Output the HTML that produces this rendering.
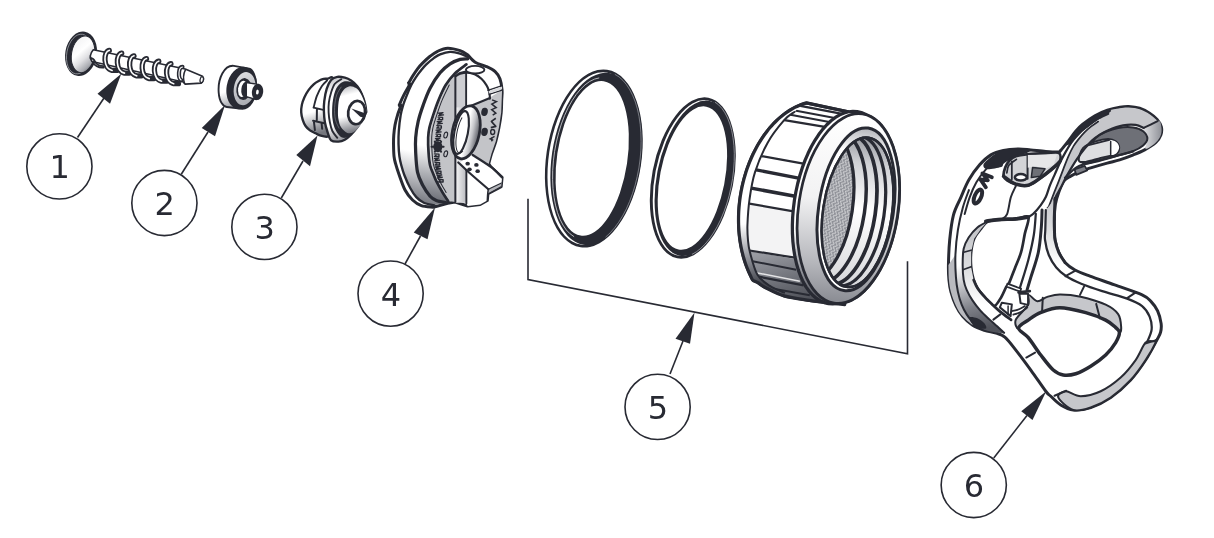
<!DOCTYPE html>
<html lang="en">
<head>
<meta charset="utf-8">
<title>Exploded view</title>
<style>
html,body{margin:0;padding:0;background:#fff;}
body{width:1214px;height:538px;overflow:hidden;font-family:"DejaVu Sans","Liberation Sans",sans-serif;}
svg{display:block;will-change:transform;filter:blur(0.4px);}
.ln{stroke:#282a33;stroke-width:1.6;fill:none;stroke-linecap:butt;}
.co{stroke:#282a33;stroke-width:1.6;fill:#fff;}
.ah{fill:#282a33;stroke:none;}
.num{font-family:"DejaVu Sans","Liberation Sans",sans-serif;font-size:32px;fill:#282a33;text-anchor:middle;}
.k{stroke:#282a33;fill:none;stroke-linecap:round;stroke-linejoin:round;}
</style>
</head>
<body>
<svg width="1214" height="538" viewBox="0 0 1214 538">
<defs>
<linearGradient id="gv" x1="0" y1="0" x2="0" y2="1"><stop offset="0" stop-color="#fff"/><stop offset="1" stop-color="#9a9ca3"/></linearGradient>
</defs>
<rect width="1214" height="538" fill="#fff"/>

<!-- CALLOUTS -->
<g id="callouts">
<line class="ln" x1="77.5" y1="137.5" x2="104" y2="98"/>
<polygon class="ah" points="121.25,73.75 97.5,93.75 110,103.75"/>
<circle class="co" cx="59.4" cy="166.4" r="32.6"/>
<text class="num" x="59.7" y="178.4">1</text>

<line class="ln" x1="181.25" y1="174.25" x2="208" y2="132"/>
<polygon class="ah" points="225,105 201.75,128 215,136.25"/>
<circle class="co" cx="164.4" cy="203" r="32.6"/>
<text class="num" x="164.7" y="215.0">2</text>

<line class="ln" x1="281.3" y1="198" x2="303" y2="161"/>
<polygon class="ah" points="317.5,135.5 296.3,155 310,166.3"/>
<circle class="co" cx="264.4" cy="226.9" r="32.6"/>
<text class="num" x="264.7" y="238.9">3</text>

<line class="ln" x1="405" y1="264" x2="420.5" y2="236"/>
<polygon class="ah" points="435,207.5 413.75,232.5 427.5,239.25"/>
<circle class="co" cx="390.6" cy="293.6" r="32.6"/>
<text class="num" x="390.9" y="305.6">4</text>

<polyline class="ln" points="528,198.75 528,279.5 907.5,353.75 907.5,261.25"/>
<line class="ln" x1="670" y1="374" x2="683" y2="341"/>
<polygon class="ah" points="694.5,312.5 675.5,338.75 690,343.75"/>
<circle class="co" cx="657.6" cy="406.9" r="32.6"/>
<text class="num" x="657.9" y="418.9">5</text>

<line class="ln" x1="993.75" y1="458" x2="1027" y2="415.5"/>
<polygon class="ah" points="1046.25,391.25 1021.25,411.25 1032.5,420"/>
<circle class="co" cx="973.75" cy="485" r="32.6"/>
<text class="num" x="974.0" y="497.0">6</text>
</g>

<g id="part1" transform="translate(60,25) scale(0.12521)">
<defs><linearGradient id="p1g" x1="0.2" y1="0.1" x2="0.85" y2="0.95"><stop offset="0" stop-color="#f4f4f5"/><stop offset="0.35" stop-color="#fff"/><stop offset="0.6" stop-color="#e0e0e3"/><stop offset="0.85" stop-color="#a9abb1"/><stop offset="1" stop-color="#6d6f77"/></linearGradient></defs>
<ellipse cx="168" cy="230" rx="126" ry="179" transform="rotate(10 168 230)" fill="#282a33"/>
<ellipse cx="152" cy="232" rx="98" ry="160" transform="rotate(10 152 232)" fill="none" stroke="#b9bbc0" stroke-width="5"/>
<ellipse cx="184" cy="234" rx="92" ry="148" transform="rotate(10 184 234)" fill="url(#p1g)" stroke="#282a33" stroke-width="8"/>
<path d="M266,198 L1000,352 L1138,410 Q1158,438 1128,464 L1000,472 L985,455 L255,292 Q225,245 266,198 Z" fill="#fff" stroke="#282a33" stroke-width="13" stroke-linejoin="round"/>
<ellipse cx="1132" cy="437" rx="13" ry="24" transform="rotate(12 1132 437)" fill="#fff" stroke="#282a33" stroke-width="10"/>
<path d="M1003,355 Q975,410 995,470" fill="none" stroke="#282a33" stroke-width="12"/>
<path d="M243,262 Q268,266 280,292 Q296,328 350,328" fill="none" stroke="#282a33" stroke-width="14" stroke-linecap="round"/>
<path d="M262,300 Q290,345 350,340" fill="none" stroke="#282a33" stroke-width="14" stroke-linecap="round"/>
<path d="M394,203 C344,211 344,347 416,363 L454,363" fill="none" stroke="#282a33" stroke-width="42" stroke-linecap="round" stroke-linejoin="round"/>
<path d="M394,203 C344,211 344,347 416,363" fill="none" stroke="#fff" stroke-width="13" stroke-linecap="round"/>
<path d="M493,224 C443,232 443,368 515,384 L553,384" fill="none" stroke="#282a33" stroke-width="42" stroke-linecap="round" stroke-linejoin="round"/>
<path d="M493,224 C443,232 443,368 515,384" fill="none" stroke="#fff" stroke-width="13" stroke-linecap="round"/>
<path d="M591,246 C541,254 541,390 613,406 L651,406" fill="none" stroke="#282a33" stroke-width="42" stroke-linecap="round" stroke-linejoin="round"/>
<path d="M591,246 C541,254 541,390 613,406" fill="none" stroke="#fff" stroke-width="13" stroke-linecap="round"/>
<path d="M691,268 C641,276 641,412 713,428 L751,428" fill="none" stroke="#282a33" stroke-width="42" stroke-linecap="round" stroke-linejoin="round"/>
<path d="M691,268 C641,276 641,412 713,428" fill="none" stroke="#fff" stroke-width="13" stroke-linecap="round"/>
<path d="M789,289 C739,297 739,433 811,449 L849,449" fill="none" stroke="#282a33" stroke-width="42" stroke-linecap="round" stroke-linejoin="round"/>
<path d="M789,289 C739,297 739,433 811,449" fill="none" stroke="#fff" stroke-width="13" stroke-linecap="round"/>
<path d="M886,309 C836,317 836,453 908,469 L946,469" fill="none" stroke="#282a33" stroke-width="42" stroke-linecap="round" stroke-linejoin="round"/>
<path d="M886,309 C836,317 836,453 908,469" fill="none" stroke="#fff" stroke-width="13" stroke-linecap="round"/>
<path d="M978,335 C943,337 943,422 967,439" fill="none" stroke="#282a33" stroke-width="34" stroke-linecap="round"/>
<path d="M978,335 C943,337 943,422 967,439" fill="none" stroke="#fff" stroke-width="9" stroke-linecap="round"/>
</g>
<g id="part2" transform="translate(200,50) scale(0.12454)">
<defs><linearGradient id="p2g" x1="0.3" y1="0" x2="0.7" y2="1"><stop offset="0" stop-color="#dcdde0"/><stop offset="1" stop-color="#a9abb1"/></linearGradient>
<linearGradient id="p2b" x1="0" y1="0" x2="0.3" y2="1"><stop offset="0.6" stop-color="#fff"/><stop offset="1" stop-color="#9a9ca3"/></linearGradient></defs>
<path d="M272,127 C195,118 142,230 150,340 C155,420 190,455 215,458 L340,472 C400,470 450,390 452,300 C455,210 420,155 395,150 Z" fill="url(#p2b)" stroke="#282a33" stroke-width="15" stroke-linejoin="round"/>
<ellipse cx="334" cy="306" rx="121" ry="172" transform="rotate(10 334 308)" fill="#282a33"/>
<ellipse cx="358" cy="310" rx="86" ry="134" transform="rotate(10 355 310)" fill="url(#p2g)"/>
<ellipse cx="352" cy="313" rx="60" ry="88" transform="rotate(8 352 313)" fill="#282a33"/>
<ellipse cx="342" cy="312" rx="36" ry="66" transform="rotate(8 342 312)" fill="#fff"/>
<ellipse cx="368" cy="316" rx="36" ry="64" transform="rotate(8 368 316)" fill="#282a33"/>
<path d="M372,262 L458,274 L452,398 L372,374 Z" fill="#fff" stroke="#282a33" stroke-width="11" stroke-linejoin="round"/>
<ellipse cx="462" cy="336" rx="45" ry="66" transform="rotate(8 461 336)" fill="#282a33"/>
<ellipse cx="461" cy="338" rx="11" ry="20" transform="rotate(8 461 338)" fill="#fff"/>
</g>

<g id="part3" transform="translate(295,70) scale(0.12453)">
<defs>
<linearGradient id="p3a" x1="0" y1="0" x2="0.15" y2="1"><stop offset="0.62" stop-color="#fff"/><stop offset="1" stop-color="#74767d"/></linearGradient>
<linearGradient id="p3b" x1="0.3" y1="0" x2="0.5" y2="1"><stop offset="0" stop-color="#c4c5c9"/><stop offset="0.22" stop-color="#fff"/><stop offset="0.7" stop-color="#fff"/><stop offset="1" stop-color="#85878e"/></linearGradient>
<linearGradient id="p3c" x1="0.4" y1="0" x2="0.55" y2="1"><stop offset="0" stop-color="#c4c5c9"/><stop offset="0.18" stop-color="#fff"/><stop offset="0.6" stop-color="#fff"/><stop offset="1" stop-color="#6d6f77"/></linearGradient>
</defs>
<path d="M300.0,60.0 C292.0,51.7 273.7,68.0 262.0,70.0 C250.3,72.0 242.0,69.0 230.0,72.0 C218.0,75.0 203.3,80.8 190.0,88.0 C176.7,95.2 163.3,103.0 150.0,115.0 C136.7,127.0 122.5,142.5 110.0,160.0 C97.5,177.5 84.2,200.0 75.0,220.0 C65.8,240.0 59.2,260.0 55.0,280.0 C50.8,300.0 48.8,320.0 50.0,340.0 C51.2,360.0 56.2,381.7 62.0,400.0 C67.8,418.3 75.3,435.8 85.0,450.0 C94.7,464.2 106.7,475.3 120.0,485.0 C133.3,494.7 151.7,501.3 165.0,508.0 C178.3,514.7 184.2,520.5 200.0,525.0 C215.8,529.5 243.3,539.2 260.0,535.0 C276.7,530.8 291.7,539.2 300.0,500.0 C308.3,460.8 308.3,363.3 310.0,300.0 C311.7,236.7 311.7,160.0 310.0,120.0 C308.3,80.0 308.0,68.3 300.0,60.0Z" fill="url(#p3a)" stroke="#282a33" stroke-width="19" stroke-linejoin="round"/>
<path d="M258.0,84.0 C250.8,91.7 228.8,109.0 215.0,130.0 C201.2,151.0 185.8,181.7 175.0,210.0 C164.2,238.3 154.2,285.0 150.0,300.0" fill="none" stroke="#282a33" stroke-width="15" stroke-linecap="round"/>
<path d="M150,302 L236,322 M176,312 L175,402 M145,407 L236,427 M152,415 L160,482 M214,430 L218,472" fill="none" stroke="#282a33" stroke-width="16" stroke-linecap="round"/>
<path d="M340.0,55.0 C358.3,52.0 381.7,57.0 400.0,62.0 C418.3,67.0 433.3,73.7 450.0,85.0 C466.7,96.3 485.8,112.5 500.0,130.0 C514.2,147.5 525.0,168.3 535.0,190.0 C545.0,211.7 553.8,236.7 560.0,260.0 C566.2,283.3 570.7,315.8 572.0,330.0 C573.3,344.2 573.3,333.3 568.0,345.0 C562.7,356.7 551.3,380.8 540.0,400.0 C528.7,419.2 515.0,440.0 500.0,460.0 C485.0,480.0 466.7,503.3 450.0,520.0 C433.3,536.7 416.7,550.8 400.0,560.0 C383.3,569.2 368.3,574.2 350.0,575.0 C331.7,575.8 304.7,577.5 290.0,565.0 C275.3,552.5 270.3,524.2 262.0,500.0 C253.7,475.8 245.0,448.3 240.0,420.0 C235.0,391.7 232.8,358.3 232.0,330.0 C231.2,301.7 231.2,280.0 235.0,250.0 C238.8,220.0 245.8,178.3 255.0,150.0 C264.2,121.7 275.8,95.8 290.0,80.0 C304.2,64.2 321.7,58.0 340.0,55.0Z" fill="url(#p3b)" stroke="#282a33" stroke-width="19" stroke-linejoin="round"/>
<path d="M372.0,74.0 C363.3,80.0 333.7,92.3 320.0,110.0 C306.3,127.7 298.0,155.0 290.0,180.0 C282.0,205.0 275.3,233.3 272.0,260.0 C268.7,286.7 268.7,313.3 270.0,340.0 C271.3,366.7 275.0,395.0 280.0,420.0 C285.0,445.0 290.0,469.2 300.0,490.0 C310.0,510.8 333.3,535.8 340.0,545.0" fill="none" stroke="#282a33" stroke-width="15" stroke-linecap="round"/>
<path d="M298.0,330.0 C298.5,303.3 299.7,270.0 305.0,240.0 C310.3,210.0 318.3,173.3 330.0,150.0 C341.7,126.7 360.0,110.0 375.0,100.0 C390.0,90.0 402.5,88.7 420.0,90.0 C437.5,91.3 462.5,97.2 480.0,108.0 C497.5,118.8 512.5,134.7 525.0,155.0 C537.5,175.3 547.8,200.8 555.0,230.0 C562.2,259.2 569.7,301.7 568.0,330.0 C566.3,358.3 556.3,377.5 545.0,400.0 C533.7,422.5 517.5,444.2 500.0,465.0 C482.5,485.8 456.7,511.7 440.0,525.0 C423.3,538.3 413.3,544.2 400.0,545.0 C386.7,545.8 373.3,542.5 360.0,530.0 C346.7,517.5 329.7,491.7 320.0,470.0 C310.3,448.3 305.7,423.3 302.0,400.0 C298.3,376.7 297.5,356.7 298.0,330.0Z" fill="#282a33"/>
<path d="M372.0,135.0 C365.8,145.8 344.0,172.5 335.0,200.0 C326.0,227.5 319.7,266.7 318.0,300.0 C316.3,333.3 318.8,371.7 325.0,400.0 C331.2,428.3 350.0,458.3 355.0,470.0" fill="none" stroke="#85878e" stroke-width="5"/>
<path d="M345.0,330.0 C345.8,301.7 347.5,258.3 355.0,230.0 C362.5,201.7 375.8,176.7 390.0,160.0 C404.2,143.3 423.3,132.5 440.0,130.0 C456.7,127.5 475.3,135.0 490.0,145.0 C504.7,155.0 516.7,170.8 528.0,190.0 C539.3,209.2 550.7,236.7 558.0,260.0 C565.3,283.3 574.2,306.7 572.0,330.0 C569.8,353.3 553.7,380.0 545.0,400.0 C536.3,420.0 532.5,433.3 520.0,450.0 C507.5,466.7 486.7,490.8 470.0,500.0 C453.3,509.2 436.7,511.7 420.0,505.0 C403.3,498.3 381.7,477.5 370.0,460.0 C358.3,442.5 354.2,421.7 350.0,400.0 C345.8,378.3 344.2,358.3 345.0,330.0Z" fill="url(#p3c)"/>
<ellipse cx="495" cy="342" rx="68" ry="94" transform="rotate(8 495 342)" fill="#fff" stroke="#282a33" stroke-width="22"/>
<polygon points="453,310 568,350 558,384 524,376" fill="#282a33"/>
</g>
<g id="part4" transform="translate(380,40) scale(0.1252)">
<defs>
<linearGradient id="p4a" gradientUnits="userSpaceOnUse" x1="300" y1="900" x2="200" y2="1300"><stop offset="0" stop-color="#fff"/><stop offset="0.5" stop-color="#b5b6bb"/><stop offset="1" stop-color="#6a6c74"/></linearGradient>
<linearGradient id="p4b" gradientUnits="userSpaceOnUse" x1="400" y1="850" x2="330" y2="1280"><stop offset="0" stop-color="#fff"/><stop offset="0.5" stop-color="#aeb0b5"/><stop offset="1" stop-color="#6a6c74"/></linearGradient>
<linearGradient id="p4h" gradientUnits="userSpaceOnUse" x1="690" y1="0" x2="795" y2="0"><stop offset="0" stop-color="#fff"/><stop offset="0.45" stop-color="#c4c5c9"/><stop offset="1" stop-color="#55575f"/></linearGradient>
<linearGradient id="p4s" gradientUnits="userSpaceOnUse" x1="605" y1="0" x2="690" y2="0"><stop offset="0" stop-color="#f4f4f5"/><stop offset="1" stop-color="#b9babf"/></linearGradient>
</defs>
<path d="M425.0,1336.0 C409.2,1333.8 357.5,1332.7 330.0,1323.0 C302.5,1313.3 281.7,1298.8 260.0,1278.0 C238.3,1257.2 218.3,1233.0 200.0,1198.0 C181.7,1163.0 162.5,1102.7 150.0,1068.0 C137.5,1033.3 131.3,1013.2 125.0,990.0 C118.7,966.8 114.8,955.7 112.0,929.0 C109.2,902.3 108.3,858.2 108.0,830.0 C107.7,801.8 108.0,785.2 110.0,760.0 C112.0,734.8 115.0,705.7 120.0,679.0 C125.0,652.3 132.3,625.8 140.0,600.0 C147.7,574.2 163.5,537.3 166.0,524.0 C168.5,510.7 151.0,534.0 155.0,520.0 C159.0,506.0 176.5,467.3 190.0,440.0 C203.5,412.7 229.3,371.8 236.0,356.0 C242.7,340.2 226.0,356.0 230.0,345.0 C234.0,334.0 248.3,309.2 260.0,290.0 C271.7,270.8 286.7,247.5 300.0,230.0 C313.3,212.5 323.3,201.7 340.0,185.0 C356.7,168.3 380.0,145.8 400.0,130.0 C420.0,114.2 436.7,100.8 460.0,90.0 C483.3,79.2 510.0,65.8 540.0,65.0 C570.0,64.2 613.3,76.2 640.0,85.0 C666.7,93.8 690.0,112.5 700.0,118.0 C710.0,128.0 735.0,162.3 760.0,178.0 C785.0,193.7 823.3,199.7 850.0,212.0 C876.7,224.3 902.0,235.7 920.0,252.0 C938.0,268.3 948.8,285.3 958.0,310.0 C967.2,334.7 972.7,371.8 975.0,400.0 C977.3,428.2 973.2,449.2 972.0,479.0 C970.8,508.8 971.7,542.3 968.0,579.0 C964.3,615.7 957.2,660.7 950.0,699.0 C942.8,737.3 935.0,774.0 925.0,809.0 C915.0,844.0 899.5,878.8 890.0,909.0 C880.5,939.2 871.7,976.5 868.0,990.0 L885,1014 L975,1098 L970,1150 L968,1172 L862,1228 L857,1282 L800,1314 L700,1326 L600,1294 L540,1304 L425,1336Z" fill="#fff" stroke="#282a33" stroke-width="24" stroke-linejoin="round"/>
<path d="M700.0,135.0 C690.0,130.5 663.3,114.7 640.0,108.0 C616.7,101.3 586.7,93.8 560.0,95.0 C533.3,96.2 501.7,106.7 480.0,115.0 C458.3,123.3 448.3,131.7 430.0,145.0 C411.7,158.3 386.7,179.2 370.0,195.0 C353.3,210.8 344.2,222.5 330.0,240.0 C315.8,257.5 298.3,280.0 285.0,300.0 C271.7,320.0 261.7,336.7 250.0,360.0 C238.3,383.3 225.8,413.3 215.0,440.0 C204.2,466.7 193.3,493.3 185.0,520.0 C176.7,546.7 170.8,565.2 165.0,600.0 C159.2,634.8 152.8,690.7 150.0,729.0 C147.2,767.3 147.2,796.7 148.0,830.0 C148.8,863.3 151.3,900.7 155.0,929.0 C158.7,957.3 163.3,974.8 170.0,1000.0 C176.7,1025.2 183.3,1050.0 195.0,1080.0 C206.7,1110.0 224.2,1150.8 240.0,1180.0 C255.8,1209.2 271.7,1235.0 290.0,1255.0 C308.3,1275.0 326.7,1289.2 350.0,1300.0 C373.3,1310.8 416.7,1316.7 430.0,1320.0 L530,1300 L450,1282 L400,1248 L340,1158 L300,1058 L285,900 L285,779 L305,650 L345,520 L400,385 L480,262 L560,190 L640,155 L700,150 Z" fill="url(#p4a)"/>
<path d="M700.0,150.0 C690.0,150.8 663.3,148.3 640.0,155.0 C616.7,161.7 586.7,172.2 560.0,190.0 C533.3,207.8 506.7,229.5 480.0,262.0 C453.3,294.5 422.5,342.0 400.0,385.0 C377.5,428.0 360.8,475.8 345.0,520.0 C329.2,564.2 315.0,606.8 305.0,650.0 C295.0,693.2 288.3,737.3 285.0,779.0 C281.7,820.7 282.5,853.5 285.0,900.0 C287.5,946.5 290.8,1015.0 300.0,1058.0 C309.2,1101.0 323.3,1126.3 340.0,1158.0 C356.7,1189.7 381.7,1227.3 400.0,1248.0 C418.3,1268.7 428.3,1273.3 450.0,1282.0 C471.7,1290.7 516.7,1297.0 530.0,1300.0 L545,1288 L500,1218 L455,1138 L425,1068 L400,1000 L388,900 L385,779 L395,700 L425,600 L468,480 L525,360 L600,265 L690,195 Z" fill="url(#p4b)"/>
<path d="M602.0,270.0 C604.0,269.2 624.5,250.0 614.0,265.0 C603.5,280.0 561.0,324.2 539.0,360.0 C517.0,395.8 498.7,440.0 482.0,480.0 C465.3,520.0 451.2,563.3 439.0,600.0 C426.8,636.7 415.7,670.2 409.0,700.0 C402.3,729.8 400.2,745.7 399.0,779.0 C397.8,812.3 399.5,863.2 402.0,900.0 C404.5,936.8 407.8,972.0 414.0,1000.0 C420.2,1028.0 429.8,1045.0 439.0,1068.0 C448.2,1091.0 456.5,1113.0 469.0,1138.0 C481.5,1163.0 499.0,1193.0 514.0,1218.0 C529.0,1243.0 551.5,1276.3 559.0,1288.0 L602,1294 Z" fill="#c3c4c8"/>
<path d="M690.0,540.0 L875.0,462.0 L975.0,400.0 L972.0,479.0 L968.0,579.0 L950.0,699.0 L925.0,809.0 L890.0,909.0 L868.0,990.0 L740.0,919.0Z" fill="#c3c4c8"/>
<rect x="602" y="268" width="86" height="1032" fill="url(#p4s)"/>
<rect x="602" y="268" width="86" height="270" fill="#cdced2"/>
<path d="M690,1030 L700,1048 L865,1192 L860,1230 L857,1282 L800,1314 L700,1326 L690,1303 Z" fill="#fff"/>
<path d="M640,975 L740,919 L885,1014 L975,1098 L970,1150 L865,1192 L700,1048 Z" fill="#fff"/>
<path d="M865,1192 L970,1143 L968,1172 L862,1228 Z" fill="#b4b5ba"/>
<path d="M700.0,135.0 C690.0,130.5 663.3,114.7 640.0,108.0 C616.7,101.3 586.7,93.8 560.0,95.0 C533.3,96.2 501.7,106.7 480.0,115.0 C458.3,123.3 448.3,131.7 430.0,145.0 C411.7,158.3 386.7,179.2 370.0,195.0 C353.3,210.8 344.2,222.5 330.0,240.0 C315.8,257.5 298.3,280.0 285.0,300.0 C271.7,320.0 261.7,336.7 250.0,360.0 C238.3,383.3 225.8,413.3 215.0,440.0 C204.2,466.7 193.3,493.3 185.0,520.0 C176.7,546.7 170.8,565.2 165.0,600.0 C159.2,634.8 152.8,690.7 150.0,729.0 C147.2,767.3 147.2,796.7 148.0,830.0 C148.8,863.3 151.3,900.7 155.0,929.0 C158.7,957.3 163.3,974.8 170.0,1000.0 C176.7,1025.2 183.3,1050.0 195.0,1080.0 C206.7,1110.0 224.2,1150.8 240.0,1180.0 C255.8,1209.2 271.7,1235.0 290.0,1255.0 C308.3,1275.0 326.7,1289.2 350.0,1300.0 C373.3,1310.8 416.7,1316.7 430.0,1320.0" fill="none" stroke="#282a33" stroke-width="19" stroke-linecap="round" stroke-linejoin="round" />
<path d="M700.0,150.0 C690.0,150.8 663.3,148.3 640.0,155.0 C616.7,161.7 586.7,172.2 560.0,190.0 C533.3,207.8 506.7,229.5 480.0,262.0 C453.3,294.5 422.5,342.0 400.0,385.0 C377.5,428.0 360.8,475.8 345.0,520.0 C329.2,564.2 315.0,606.8 305.0,650.0 C295.0,693.2 288.3,737.3 285.0,779.0 C281.7,820.7 282.5,853.5 285.0,900.0 C287.5,946.5 290.8,1015.0 300.0,1058.0 C309.2,1101.0 323.3,1126.3 340.0,1158.0 C356.7,1189.7 381.7,1227.3 400.0,1248.0 C418.3,1268.7 428.3,1273.3 450.0,1282.0 C471.7,1290.7 516.7,1297.0 530.0,1300.0" fill="none" stroke="#282a33" stroke-width="26" stroke-linecap="round" stroke-linejoin="round" />
<path d="M690.0,195.0 C675.0,206.7 627.5,237.5 600.0,265.0 C572.5,292.5 547.0,324.2 525.0,360.0 C503.0,395.8 484.7,440.0 468.0,480.0 C451.3,520.0 437.2,563.3 425.0,600.0 C412.8,636.7 401.7,670.2 395.0,700.0 C388.3,729.8 386.2,745.7 385.0,779.0 C383.8,812.3 385.5,863.2 388.0,900.0 C390.5,936.8 393.8,972.0 400.0,1000.0 C406.2,1028.0 415.8,1045.0 425.0,1068.0 C434.2,1091.0 442.5,1113.0 455.0,1138.0 C467.5,1163.0 485.0,1193.0 500.0,1218.0 C515.0,1243.0 537.5,1276.3 545.0,1288.0" fill="none" stroke="#282a33" stroke-width="22" stroke-linecap="round" stroke-linejoin="round" />
<path d="M553.0,360.0 C543.5,380.0 512.7,440.0 496.0,480.0 C479.3,520.0 465.2,563.3 453.0,600.0 C440.8,636.7 429.7,670.2 423.0,700.0 C416.3,729.8 414.2,745.7 413.0,779.0 C411.8,812.3 413.5,863.2 416.0,900.0 C418.5,936.8 421.8,972.0 428.0,1000.0 C434.2,1028.0 443.8,1045.0 453.0,1068.0 C462.2,1091.0 470.5,1113.0 483.0,1138.0 C495.5,1163.0 520.5,1204.7 528.0,1218.0" fill="none" stroke="#282a33" stroke-width="8" stroke-linecap="round" stroke-linejoin="round" />
<path d="M222.0,340.0 L240.0,358.0" fill="none" stroke="#282a33" stroke-width="12" stroke-linecap="round" stroke-linejoin="round" />
<path d="M148.0,515.0 L172.0,527.0" fill="none" stroke="#282a33" stroke-width="12" stroke-linecap="round" stroke-linejoin="round" />
<path d="M602.0,285.0 L602.0,1294.0" fill="none" stroke="#282a33" stroke-width="16" stroke-linecap="round" stroke-linejoin="round" />
<path d="M688.0,268.0 L688.0,540.0" fill="none" stroke="#282a33" stroke-width="15" stroke-linecap="round" stroke-linejoin="round" />
<path d="M690.0,1040.0 L690.0,1305.0" fill="none" stroke="#282a33" stroke-width="15" stroke-linecap="round" stroke-linejoin="round" />
<path d="M602.0,290.0 C608.3,286.7 623.7,274.7 640.0,270.0 C656.3,265.3 680.0,261.2 700.0,262.0 C720.0,262.8 741.7,267.0 760.0,275.0 C778.3,283.0 795.0,295.8 810.0,310.0 C825.0,324.2 840.3,345.0 850.0,360.0 C859.7,375.0 863.7,386.7 868.0,400.0 C872.3,413.3 874.3,428.7 876.0,440.0 C877.7,451.3 877.7,463.3 878.0,468.0" fill="none" stroke="#282a33" stroke-width="17" stroke-linecap="round" stroke-linejoin="round" />
<path d="M878.0,464.0 L690.0,541.0" fill="none" stroke="#282a33" stroke-width="17" stroke-linecap="round" stroke-linejoin="round" />
<path d="M862.0,402.0 L975.0,364.0" fill="none" stroke="#282a33" stroke-width="10" stroke-linecap="round" stroke-linejoin="round" />
<path d="M872.0,434.0 L975.0,400.0" fill="none" stroke="#282a33" stroke-width="10" stroke-linecap="round" stroke-linejoin="round" />
<path d="M866,410 L975,372 L975,394 L873,428 Z" fill="#d9dadd"/>
<ellipse cx="760" cy="237" rx="74" ry="30" fill="#fff" stroke="#282a33" stroke-width="15"/>
<path d="M688.0,250.0 C680.0,252.0 653.7,256.3 640.0,262.0 C626.3,267.7 611.7,280.3 606.0,284.0" fill="none" stroke="#282a33" stroke-width="12" stroke-linecap="round" stroke-linejoin="round" />
<path d="M740.0,919.0 C764.2,934.8 845.8,984.2 885.0,1014.0 C924.2,1043.8 960.0,1084.0 975.0,1098.0" fill="none" stroke="#282a33" stroke-width="18" stroke-linecap="round" stroke-linejoin="round" />
<path d="M625.0,978.0 C637.5,989.7 660.0,1012.3 700.0,1048.0 C740.0,1083.7 837.5,1168.0 865.0,1192.0" fill="none" stroke="#282a33" stroke-width="17" stroke-linecap="round" stroke-linejoin="round" />
<path d="M865.0,1192.0 L970.0,1143.0" fill="none" stroke="#282a33" stroke-width="9" stroke-linecap="round" stroke-linejoin="round" />
<path d="M866.0,1228.0 L967.0,1172.0" fill="none" stroke="#282a33" stroke-width="9" stroke-linecap="round" stroke-linejoin="round" />
<path d="M865.0,1192.0 C864.2,1198.3 861.3,1215.0 860.0,1230.0 C858.7,1245.0 857.5,1273.3 857.0,1282.0" fill="none" stroke="#282a33" stroke-width="12" stroke-linecap="round" stroke-linejoin="round" />
<ellipse cx="686" cy="737" rx="108" ry="215" transform="rotate(12 686 737)" fill="url(#p4h)" stroke="#282a33" stroke-width="22"/>
<ellipse cx="648" cy="739" rx="54" ry="174" transform="rotate(11 648 739)" fill="#fff" stroke="#282a33" stroke-width="17"/>
<path d="M662.1,886.8 L655.0,894.4 L648.0,899.7 L641.3,902.7 L634.9,903.3 L629.0,901.5 L623.6,897.3 L618.8,890.8 L614.7,882.1 L611.3,871.3 L608.8,858.6 L607.1,844.2 L606.3,828.3 L606.3,811.1 L607.3,792.9 L609.1,774.1 L611.7,754.8 L615.1,735.3 L619.3,716.0 L624.2,697.2 L629.7,679.1 L635.7,662.1 L642.1,646.3 L648.8,632.1 L655.8,619.6" fill="none" stroke="#282a33" stroke-width="8"/>
<ellipse cx="835" cy="574" rx="26" ry="33" transform="rotate(12 835 574)" fill="#282a33"/>
<ellipse cx="835" cy="734" rx="26" ry="33" transform="rotate(12 835 734)" fill="#282a33"/>
<ellipse cx="525" cy="759" rx="14" ry="24" transform="rotate(15 525 759)" fill="none" stroke="#282a33" stroke-width="9"/>
<ellipse cx="525" cy="909" rx="14" ry="24" transform="rotate(15 525 909)" fill="none" stroke="#282a33" stroke-width="9"/>
<ellipse cx="700" cy="988" rx="18" ry="15" fill="#282a33"/>
<ellipse cx="770" cy="998" rx="18" ry="15" fill="#282a33"/>
<ellipse cx="715" cy="1033" rx="18" ry="15" fill="#282a33"/>
<ellipse cx="780" cy="1048" rx="18" ry="15" fill="#282a33"/>
<path d="M467,584 L503,580 L475,594 L507,598 L469,604" fill="none" stroke="#282a33" stroke-width="11" stroke-linejoin="round" stroke-linecap="round"/>
<path d="M464,616 L500,618 L500,636 L464,636 L476,626" fill="none" stroke="#282a33" stroke-width="11" stroke-linejoin="round" stroke-linecap="round"/>
<path d="M457,652 L493,648 L465,662 L497,666 L459,672" fill="none" stroke="#282a33" stroke-width="11" stroke-linejoin="round" stroke-linecap="round"/>
<path d="M454,684 L490,686 L490,704 L454,704 L466,694" fill="none" stroke="#282a33" stroke-width="11" stroke-linejoin="round" stroke-linecap="round"/>
<path d="M448,720 L484,716 L456,730 L488,734 L450,740" fill="none" stroke="#282a33" stroke-width="11" stroke-linejoin="round" stroke-linecap="round"/>
<path d="M447,752 L483,754 L483,772 L447,772 L459,762" fill="none" stroke="#282a33" stroke-width="11" stroke-linejoin="round" stroke-linecap="round"/>
<path d="M443,788 L479,784 L451,798 L483,802 L445,808" fill="none" stroke="#282a33" stroke-width="11" stroke-linejoin="round" stroke-linecap="round"/>
<path d="M435,910 L471,912 L471,930 L435,930 L447,920" fill="none" stroke="#282a33" stroke-width="11" stroke-linejoin="round" stroke-linecap="round"/>
<path d="M435,946 L471,942 L443,956 L475,960 L437,966" fill="none" stroke="#282a33" stroke-width="11" stroke-linejoin="round" stroke-linecap="round"/>
<path d="M440,978 L476,980 L476,998 L440,998 L452,988" fill="none" stroke="#282a33" stroke-width="11" stroke-linejoin="round" stroke-linecap="round"/>
<path d="M443,1014 L479,1010 L451,1024 L483,1028 L445,1034" fill="none" stroke="#282a33" stroke-width="11" stroke-linejoin="round" stroke-linecap="round"/>
<path d="M451,1046 L487,1048 L487,1066 L451,1066 L463,1056" fill="none" stroke="#282a33" stroke-width="11" stroke-linejoin="round" stroke-linecap="round"/>
<path d="M457,1082 L493,1078 L465,1092 L497,1096 L459,1102" fill="none" stroke="#282a33" stroke-width="11" stroke-linejoin="round" stroke-linecap="round"/>
<path d="M468,1114 L504,1116 L504,1134 L468,1134 L480,1124" fill="none" stroke="#282a33" stroke-width="11" stroke-linejoin="round" stroke-linecap="round"/>
<ellipse cx="462" cy="852" rx="36" ry="44" fill="#282a33"/>
<path d="M412,852 L508,852 M438,812 L488,892 M488,812 L438,892" stroke="#282a33" stroke-width="16" fill="none" stroke-linecap="round"/>
<path d="M895.0,478.0 L930.0,492.0 L893.0,512.0 L928.0,540.0 L892.0,556.0 L925.0,585.0 L900.0,600.0" fill="none" stroke="#282a33" stroke-width="12" stroke-linejoin="miter"/>
<path d="M925.0,625.0 L890.0,650.0 L905.0,668.0 L925.0,690.0 L885.0,700.0" fill="none" stroke="#282a33" stroke-width="13" stroke-linejoin="round"/>
<ellipse cx="900" cy="735" rx="16" ry="20" fill="none" stroke="#282a33" stroke-width="11"/>
<path d="M915,770 L880,790 L905,800 M895,775 L892,810" fill="none" stroke="#282a33" stroke-width="11"/>
</g>
<g id="ring1">
<ellipse cx="593.8" cy="158.5" rx="47.6" ry="89.8" transform="rotate(8.5 593.8 158.5)" fill="#282a33" />
<ellipse cx="593.5" cy="158.5" rx="44.7" ry="87.0" transform="rotate(8.5 593.5 158.5)" fill="#fff" />
<ellipse cx="596.3" cy="158.9" rx="44.6" ry="86.8" transform="rotate(8.5 596.3 158.9)" fill="#282a33" />
<ellipse cx="592.2" cy="158.4" rx="35.2" ry="78.0" transform="rotate(8.5 592.2 158.4)" fill="#fff" />
<path d="M574.1,236.7 L570.1,233.8 L566.3,230.0 L563.0,225.1 L560.0,219.3 L557.5,212.6 L555.5,205.2 L554.0,197.2 L553.0,188.6 L552.6,179.6 L552.7,170.3 L553.4,160.8 L554.6,151.3 L556.4,141.9 L558.7,132.7 L561.4,123.9 L564.5,115.6 L568.1,107.8 L572.0,100.8 L576.2,94.5 L580.6,89.2 L585.1,84.8 L589.8,81.4 L594.5,79.1 L599.2,77.9" fill="none" stroke="#c4c5c9" stroke-width="0.9"/>
<path d="M614.8,74.3 L619.0,76.9 L622.9,80.4 L626.5,84.7 L629.8,89.8 L632.7,95.5 L635.3,102.0 L637.4,109.0 L639.0,116.5 L640.2,124.5 L640.9,132.8 L641.1,141.4 L640.9,150.2 L640.1,159.0 L638.9,167.9 L637.2,176.6 L635.1,185.2 L632.5,193.5 L629.6,201.4 L626.3,208.9 L622.6,215.9 L618.7,222.2 L614.5,227.9 L610.1,232.9 L605.5,237.2" fill="none" stroke="#9a9ca3" stroke-width="0.7"/>
</g>
<g id="ring2">
<ellipse cx="692.8" cy="178.0" rx="40.8" ry="81.8" transform="rotate(11 692.8 178.0)" fill="#282a33" />
<ellipse cx="692.9" cy="178.0" rx="37.9" ry="79.0" transform="rotate(11 692.9 178.0)" fill="#fff" />
<ellipse cx="694.6" cy="178.3" rx="37.8" ry="78.8" transform="rotate(11 694.6 178.3)" fill="#282a33" />
<ellipse cx="692.4" cy="178.1" rx="32.4" ry="72.8" transform="rotate(11 692.4 178.1)" fill="#fff" />
<path d="M714.9,102.1 L718.5,104.8 L721.9,108.4 L724.9,112.8 L727.6,118.0 L729.9,124.0 L731.7,130.5 L733.0,137.7 L733.9,145.3 L734.3,153.3 L734.2,161.6 L733.6,170.1 L732.6,178.6 L731.0,187.2 L729.1,195.7 L726.7,204.0 L723.9,211.9 L720.7,219.5 L717.2,226.6 L713.4,233.0 L709.4,238.9 L705.2,244.0 L700.8,248.3 L696.4,251.8 L691.9,254.4" fill="none" stroke="#b5b6bb" stroke-width="0.7"/>
</g>
<g id="nut" transform="translate(720,90) scale(0.2496)">
<defs>
<pattern id="hatch" width="14" height="22" patternUnits="userSpaceOnUse" patternTransform="rotate(18)"><rect width="14" height="22" fill="#8d8f96"/><path d="M0,0 L14,11 L0,22" stroke="#cfd0d3" stroke-width="4" fill="none"/></pattern>
<linearGradient id="n_face" gradientUnits="userSpaceOnUse" x1="500" y1="100" x2="560" y2="850"><stop offset="0" stop-color="#fff"/><stop offset="0.45" stop-color="#f2f2f3"/><stop offset="0.8" stop-color="#b5b6bb"/><stop offset="1" stop-color="#8a8c93"/></linearGradient>
<linearGradient id="n_body" gradientUnits="userSpaceOnUse" x1="200" y1="640" x2="260" y2="860"><stop offset="0" stop-color="#9a9ca3"/><stop offset="1" stop-color="#50525a"/></linearGradient>
<linearGradient id="n_thr" gradientUnits="userSpaceOnUse" x1="0" y1="150" x2="0" y2="800"><stop offset="0" stop-color="#85878e"/><stop offset="0.22" stop-color="#d0d1d5"/><stop offset="0.5" stop-color="#fff"/><stop offset="1" stop-color="#d5d6d9"/></linearGradient>
<linearGradient id="n_fl" gradientUnits="userSpaceOnUse" x1="300" y1="560" x2="360" y2="850"><stop offset="0" stop-color="#fff"/><stop offset="0.5" stop-color="#9a9ca3"/><stop offset="1" stop-color="#50525a"/></linearGradient>
<linearGradient id="n_ch" gradientUnits="userSpaceOnUse" x1="540" y1="150" x2="540" y2="810"><stop offset="0" stop-color="#b5b6bb"/><stop offset="0.15" stop-color="#fff"/><stop offset="1" stop-color="#fff"/></linearGradient>
<linearGradient id="n_chf" gradientUnits="userSpaceOnUse" x1="0" y1="560" x2="60" y2="800"><stop offset="0" stop-color="#fff"/><stop offset="0.5" stop-color="#9a9ca3"/><stop offset="1" stop-color="#45474f"/></linearGradient>
<clipPath id="n_clip"><ellipse cx="551" cy="490" rx="138" ry="302" transform="rotate(8.5 551 490)"/></clipPath>
<clipPath id="n_bclip"><path d="M152.0,772.0 L131.4,761.5 L122.4,744.6 L114.2,726.8 L106.7,708.3 L99.9,689.1 L93.9,669.3 L88.6,648.9 L84.2,628.0 L80.6,606.7 L77.7,584.9 L75.7,562.9 L74.6,540.5 L74.2,518.0 L74.7,495.3 L76.1,472.6 L78.2,449.8 L81.2,427.1 L85.0,404.6 L89.6,382.2 L95.0,360.0 L101.2,338.2 L108.1,316.8 L115.8,295.8 L124.2,275.3 L133.2,255.3 L143.0,236.0 L153.3,217.3 L164.3,199.4 L175.9,182.2 L188.0,165.9 L200.6,150.4 L213.7,135.9 L227.2,122.3 L241.2,109.7 L255.4,98.1 L270.0,87.6 L284.9,78.1 L300.0,69.8 L315.3,62.7 L330.7,56.7 L346.3,51.9 L513.0,87.0 L540.0,400.0 L500.0,860.0 L441.0,853.0 L358.0,843.0 L257.0,825.0 L179.0,790.0Z"/></clipPath>
</defs>
<path d="M152.0,772.0 L131.4,761.5 L122.4,744.6 L114.2,726.8 L106.7,708.3 L99.9,689.1 L93.9,669.3 L88.6,648.9 L84.2,628.0 L80.6,606.7 L77.7,584.9 L75.7,562.9 L74.6,540.5 L74.2,518.0 L74.7,495.3 L76.1,472.6 L78.2,449.8 L81.2,427.1 L85.0,404.6 L89.6,382.2 L95.0,360.0 L101.2,338.2 L108.1,316.8 L115.8,295.8 L124.2,275.3 L133.2,255.3 L143.0,236.0 L153.3,217.3 L164.3,199.4 L175.9,182.2 L188.0,165.9 L200.6,150.4 L213.7,135.9 L227.2,122.3 L241.2,109.7 L255.4,98.1 L270.0,87.6 L284.9,78.1 L300.0,69.8 L315.3,62.7 L330.7,56.7 L346.3,51.9 L513.0,87.0 L540.0,400.0 L500.0,860.0 L441.0,853.0 L358.0,843.0 L257.0,825.0 L179.0,790.0Z" fill="#fff" stroke="#282a33" stroke-width="12" stroke-linejoin="round"/>
<g clip-path="url(#n_bclip)">
<path d="M60,636 L330,682 L420,900 L60,900 Z" fill="url(#n_body)"/>
<path d="M100,455 L300,487 L300,672 L100,640 Z" fill="#f3f3f4"/>
<path d="M322,64 L510,100" stroke="#282a33" stroke-width="9" fill="none"/>
<path d="M300,82 L492,118" stroke="#282a33" stroke-width="8" fill="none"/>
<path d="M282,99 L465,133" stroke="#282a33" stroke-width="8" fill="none"/>
<path d="M240,118 L432,150" stroke="#282a33" stroke-width="9" fill="none"/>
<path d="M150,262 L345,297" stroke="#282a33" stroke-width="9" fill="none"/>
<path d="M135,318 L330,356" stroke="#282a33" stroke-width="13" fill="none"/>
<path d="M120,392 L312,428" stroke="#282a33" stroke-width="14" fill="none"/>
<path d="M100,452 L300,487" stroke="#282a33" stroke-width="9" fill="none"/>
<path d="M100,640 L300,672" stroke="#282a33" stroke-width="9" fill="none"/>
<path d="M110,682 L305,720" stroke="#282a33" stroke-width="8" fill="none"/>
<path d="M125,728 L320,766" stroke="#e4e4e6" stroke-width="6" fill="none"/>
<path d="M140,745 L335,783" stroke="#282a33" stroke-width="9" fill="none"/>
<path d="M180,790 L360,822" stroke="#282a33" stroke-width="8" fill="none"/>
</g>
<path d="M131.4,761.5 L122.7,745.1 L114.7,727.9 L107.3,709.9 L100.7,691.4 L94.7,672.2 L89.5,652.5 L85.0,632.3 L81.3,611.7 L78.4,590.7 L76.2,569.4 L74.8,547.8 L74.2,526.0 L74.4,504.0 L75.4,481.9 L77.2,459.8 L79.7,437.8 L83.0,415.8 L87.1,394.0 L91.9,372.4 L97.5,351.0 L103.7,330.0 L110.7,309.3 L118.4,289.1 L126.8,269.3 L135.8,250.1 L145.4,231.5 L155.6,213.6 L166.3,196.3 L177.7,179.8 L189.5,164.0 L201.8,149.1 L214.5,135.0 L227.7,121.9 L241.2,109.6 L255.0,98.4 L269.2,88.1 L283.6,78.9 L298.2,70.8 L313.1,63.7 L328.0,57.7 L298,88 L257,121 L191,211 L140,330 L118,440 L110,540 L112,600 L120,650 L150,740 L200,785 L257,812 L179,790 L152,772 Z" fill="url(#n_chf)"/>
<path d="M441.0,853.0 C427.2,851.3 388.7,847.7 358.0,843.0 C327.3,838.3 286.8,833.8 257.0,825.0 C227.2,816.2 196.5,798.8 179.0,790.0 C161.5,781.2 159.9,776.7 152.0,772.0 C144.1,767.3 136.3,766.1 131.4,761.5 C126.5,757.0 125.3,750.3 122.4,744.6 C119.6,738.8 116.8,732.8 114.2,726.8 C111.6,720.7 109.1,714.6 106.7,708.3 C104.3,702.0 102.0,695.6 99.9,689.1 C97.8,682.6 95.8,676.0 93.9,669.3 C92.0,662.6 90.3,655.8 88.6,648.9 C87.0,642.0 85.5,635.0 84.2,628.0 C82.8,621.0 81.6,613.8 80.6,606.7 C79.5,599.5 78.5,592.2 77.7,584.9 C76.9,577.6 76.3,570.3 75.7,562.9 C75.2,555.5 74.8,548.0 74.6,540.5 C74.3,533.0 74.2,525.5 74.2,518.0 C74.3,510.5 74.4,502.9 74.7,495.3 C75.0,487.8 75.5,480.2 76.1,472.6 C76.6,465.0 77.4,457.4 78.2,449.8 C79.1,442.3 80.1,434.7 81.2,427.1 C82.3,419.6 83.6,412.1 85.0,404.6 C86.4,397.1 87.9,389.6 89.6,382.2 C91.3,374.8 93.1,367.4 95.0,360.0 C96.9,352.7 99.0,345.4 101.2,338.2 C103.4,331.0 105.7,323.9 108.1,316.8 C110.5,309.7 113.1,302.7 115.8,295.8 C118.4,288.9 121.2,282.0 124.2,275.3 C127.1,268.5 130.1,261.9 133.2,255.3 C136.4,248.8 139.6,242.3 143.0,236.0 C146.3,229.7 149.8,223.4 153.3,217.3 C156.9,211.2 160.6,205.3 164.3,199.4 C168.1,193.6 172.0,187.8 175.9,182.2 C179.8,176.7 183.9,171.2 188.0,165.9 C192.1,160.6 196.3,155.4 200.6,150.4 C204.9,145.4 209.3,140.6 213.7,135.9 C218.1,131.2 222.7,126.6 227.2,122.3 C231.8,117.9 236.5,113.7 241.2,109.7 C245.9,105.6 250.6,101.8 255.4,98.1 C260.2,94.4 265.1,90.9 270.0,87.6 C274.9,84.2 279.9,81.1 284.9,78.1 C289.9,75.2 294.9,72.4 300.0,69.8 C305.1,67.3 310.2,64.9 315.3,62.7 C320.4,60.5 325.6,58.5 330.7,56.7 C335.9,54.9 343.7,52.7 346.3,51.9 L513,87" fill="none" stroke="#282a33" stroke-width="13" stroke-linejoin="round" stroke-linecap="round"/>
<path d="M298.0,88.0 C291.2,93.5 274.8,100.5 257.0,121.0 C239.2,141.5 210.5,176.2 191.0,211.0 C171.5,245.8 152.2,291.8 140.0,330.0 C127.8,368.2 123.0,405.0 118.0,440.0 C113.0,475.0 111.0,513.3 110.0,540.0 C109.0,566.7 110.3,581.7 112.0,600.0 C113.7,618.3 113.7,626.7 120.0,650.0 C126.3,673.3 136.7,717.5 150.0,740.0 C163.3,762.5 182.2,773.0 200.0,785.0 C217.8,797.0 247.5,807.5 257.0,812.0" fill="none" stroke="#282a33" stroke-width="8" stroke-linecap="round"/>
<path d="M289.9,542.6 L291.1,509.3 L293.9,475.7 L298.1,442.0 L303.9,408.6 L311.1,375.7 L319.6,343.4 L329.5,312.2 L340.6,282.1 L352.9,253.6 L366.2,226.6 L380.5,201.5 L395.6,178.5 L411.4,157.7 L427.9,139.2 L444.9,123.3 L462.2,110.1 L479.7,99.6 L497.4,91.9 L515.0,87.1 L532.4,85.2 L549.5,86.3 L566.2,90.3 L582.3,97.2 L603.9,107.1 L619.6,116.7 L634.5,129.1 L648.5,144.1 L661.4,161.7 L673.3,181.6 L683.9,203.7 L693.2,227.9 L701.2,254.1 L707.7,281.8 L712.8,311.1 L716.3,341.6 L718.3,373.1 L718.8,405.4 L717.6,438.2 L715.0,471.3 L710.8,504.4 L705.1,537.3 L698.0,569.7 L689.5,601.5 L679.6,632.2 L668.5,661.7 L656.1,689.9 L642.8,716.4 L628.4,741.0 L613.1,763.6 L597.1,784.1 L580.5,802.2 L563.4,817.8 L545.9,830.7 L528.1,841.0 L510.3,848.5 L492.4,853.1 L474.8,854.9 L451.6,856.8 L434.5,855.7 L417.8,851.7 L401.7,844.9 L386.3,835.1 L371.7,822.6 L358.0,807.4 L345.3,789.7 L333.7,769.5 L323.4,747.1 L314.3,722.6 L306.6,696.1 L300.2,667.9 L295.4,638.3 L292.0,607.3 L290.2,575.4Z" fill="url(#n_fl)" stroke="#282a33" stroke-width="13" stroke-linejoin="round"/>
<ellipse cx="514.0" cy="475.0" rx="199.0" ry="383.0" transform="rotate(8.5 514.0 475.0)" fill="url(#n_face)" stroke="#282a33" stroke-width="11" />
<ellipse cx="545.0" cy="478.0" rx="150.0" ry="329.0" transform="rotate(8.5 545.0 478.0)" fill="url(#n_ch)" stroke="#282a33" stroke-width="12" />
<ellipse cx="551.0" cy="490.0" rx="138.0" ry="302.0" transform="rotate(8.5 551.0 490.0)" fill="url(#n_thr)" stroke="#282a33" stroke-width="10" />
<g clip-path="url(#n_clip)">
<ellipse cx="520.0" cy="485.0" rx="138.0" ry="302.0" transform="rotate(8.5 520.0 485.0)" fill="none" stroke="#282a33" stroke-width="13" />
<ellipse cx="485.0" cy="479.4" rx="138.0" ry="302.0" transform="rotate(8.5 485.0 479.4)" fill="none" stroke="#282a33" stroke-width="15" />
<ellipse cx="442.0" cy="472.6" rx="138.0" ry="302.0" transform="rotate(8.5 442.0 472.6)" fill="none" stroke="#282a33" stroke-width="14" />
<ellipse cx="393.0" cy="465.0" rx="138.0" ry="302.0" transform="rotate(8.5 393.0 465.0)" fill="url(#hatch)" stroke="#282a33" stroke-width="13" />
</g>
<ellipse cx="551.0" cy="490.0" rx="138.0" ry="302.0" transform="rotate(8.5 551.0 490.0)" fill="none" stroke="#282a33" stroke-width="10" />
</g>
<g id="part6" transform="translate(911,80) scale(0.2496)">
<defs>
<linearGradient id="p6a" gradientUnits="userSpaceOnUse" x1="200" y1="740" x2="290" y2="1000"><stop offset="0" stop-color="#fff"/><stop offset="0.3" stop-color="#c4c5c9"/><stop offset="0.65" stop-color="#7d7f87"/><stop offset="1" stop-color="#50525a"/></linearGradient>
<linearGradient id="p6b" gradientUnits="userSpaceOnUse" x1="940" y1="0" x2="1006" y2="0"><stop offset="0" stop-color="#d5d6d9"/><stop offset="1" stop-color="#8d8f96"/></linearGradient>
<linearGradient id="p6c" gradientUnits="userSpaceOnUse" x1="0" y1="600" x2="0" y2="900"><stop offset="0" stop-color="#c4c5c9"/><stop offset="0.55" stop-color="#dedfe1"/><stop offset="1" stop-color="#fff"/></linearGradient>
<linearGradient id="p6d" gradientUnits="userSpaceOnUse" x1="0" y1="480" x2="0" y2="740"><stop offset="0" stop-color="#c6c7cb"/><stop offset="0.5" stop-color="#dedfe1"/><stop offset="1" stop-color="#fff"/></linearGradient>
</defs>
<path d="M600.0,282.0 C606.7,274.8 620.0,257.8 630.0,245.0 C640.0,232.2 650.5,216.2 660.0,205.0 C669.5,193.8 674.2,188.3 687.0,178.0 C699.8,167.7 720.3,152.5 737.0,143.0 C753.7,133.5 770.3,126.7 787.0,121.0 C803.7,115.3 822.8,111.5 837.0,109.0 C851.2,106.5 858.8,105.3 872.0,106.0 C885.2,106.7 902.0,108.5 916.0,113.0 C930.0,117.5 944.3,125.5 956.0,133.0 C967.7,140.5 978.2,148.8 986.0,158.0 C993.8,167.2 1000.5,177.7 1003.0,188.0 C1005.5,198.3 1004.7,209.7 1001.0,220.0 C997.3,230.3 991.8,240.0 981.0,250.0 C970.2,260.0 951.8,271.3 936.0,280.0 C920.2,288.7 902.7,295.3 886.0,302.0 C869.3,308.7 852.7,314.8 836.0,320.0 C819.3,325.2 805.3,327.7 786.0,333.0 C766.7,338.3 737.7,346.7 720.0,352.0 C702.3,357.3 693.3,359.5 680.0,365.0 C666.7,370.5 651.3,378.3 640.0,385.0 C628.7,391.7 620.0,394.2 612.0,405.0 C604.0,415.8 597.7,434.2 592.0,450.0 C586.3,465.8 581.0,481.7 578.0,500.0 C575.0,518.3 574.5,541.7 574.0,560.0 C573.5,578.3 574.5,596.5 575.0,610.0 C575.5,623.5 574.2,627.5 577.0,641.0 C579.8,654.5 585.3,676.0 592.0,691.0 C598.7,706.0 606.2,719.3 617.0,731.0 C627.8,742.7 640.3,751.8 657.0,761.0 C673.7,770.2 690.5,776.0 717.0,786.0 C743.5,796.0 781.2,808.5 816.0,821.0 C850.8,833.5 901.7,849.8 926.0,861.0 C950.3,872.2 951.7,877.3 962.0,888.0 C972.3,898.7 981.3,910.5 988.0,925.0 C994.7,939.5 1000.0,960.8 1002.0,975.0 C1004.0,989.2 1002.8,998.8 1000.0,1010.0 C997.2,1021.2 995.0,1023.3 985.0,1042.0 C975.0,1060.7 957.5,1095.3 940.0,1122.0 C922.5,1148.7 903.3,1177.0 880.0,1202.0 C856.7,1227.0 826.7,1253.7 800.0,1272.0 C773.3,1290.3 745.0,1303.7 720.0,1312.0 C695.0,1320.3 670.0,1323.7 650.0,1322.0 C630.0,1320.3 615.0,1311.2 600.0,1302.0 C585.0,1292.8 570.0,1276.2 560.0,1267.0 C550.0,1257.8 553.3,1264.5 540.0,1247.0 C526.7,1229.5 500.0,1189.5 480.0,1162.0 C460.0,1134.5 437.3,1104.0 420.0,1082.0 C402.7,1060.0 389.2,1041.3 376.0,1030.0 C362.8,1018.7 354.7,1018.5 341.0,1014.0 C327.3,1009.5 309.7,1008.2 294.0,1003.0 C278.3,997.8 261.5,992.3 247.0,983.0 C232.5,973.7 218.2,960.2 207.0,947.0 C195.8,933.8 187.8,920.3 180.0,904.0 C172.2,887.7 164.7,866.2 160.0,849.0 C155.3,831.8 153.7,819.0 152.0,801.0 C150.3,783.0 149.5,767.7 150.0,741.0 C150.5,714.3 151.7,674.3 155.0,641.0 C158.3,607.7 162.5,569.5 170.0,541.0 C177.5,512.5 189.7,493.5 200.0,470.0 C210.3,446.5 219.5,421.7 232.0,400.0 C244.5,378.3 260.3,356.7 275.0,340.0 C289.7,323.3 304.2,309.7 320.0,300.0 C335.8,290.3 351.7,286.0 370.0,282.0 C388.3,278.0 411.7,276.3 430.0,276.0 C448.3,275.7 461.7,278.3 480.0,280.0 C498.3,281.7 521.7,284.7 540.0,286.0 C558.3,287.3 580.0,288.7 590.0,288.0 C600.0,287.3 593.3,289.2 600.0,282.0Z" fill="#fff" stroke="#282a33" stroke-width="12" stroke-linejoin="round" stroke-linecap="round" />
<path d="M540.0,521.0 C541.2,519.5 545.0,514.3 547.0,512.0 C549.0,509.7 547.8,516.5 552.0,507.0 C556.2,497.5 565.3,472.0 572.0,455.0 C578.7,438.0 585.5,421.7 592.0,405.0 C598.5,388.3 604.5,371.7 611.0,355.0 C617.5,338.3 624.3,320.0 631.0,305.0 C637.7,290.0 644.7,275.8 651.0,265.0 C657.3,254.2 661.7,249.2 669.0,240.0 C676.3,230.8 686.2,219.0 695.0,210.0 C703.8,201.0 712.8,193.3 722.0,186.0 C731.2,178.7 739.2,176.2 750.0,166.0 C760.8,155.8 772.5,133.8 787.0,125.0 C801.5,116.2 822.8,115.5 837.0,113.0 C851.2,110.5 858.8,109.3 872.0,110.0 C885.2,110.7 902.0,112.5 916.0,117.0 C930.0,121.5 944.7,129.8 956.0,137.0 C967.3,144.2 977.0,153.2 984.0,160.0 C991.0,166.8 995.7,175.0 998.0,178.0 L932,192 L900,180 L850,182 L788,202 L755,220 L726,242 L696,275 L666,315 L641,355 L621,390 L601,430 L577,475 L572,520 L575,560 Z" fill="#c6c7cb"/>
<path d="M932.0,192.0 C939.0,180.5 978.2,163.7 990.0,163.0 C1001.8,162.3 1001.2,178.5 1003.0,188.0 C1004.8,197.5 1004.7,209.7 1001.0,220.0 C997.3,230.3 991.2,240.8 981.0,250.0 C970.8,259.2 945.5,278.0 940.0,275.0 C934.5,272.0 949.3,245.8 948.0,232.0 C946.7,218.2 925.0,203.5 932.0,192.0Z" fill="url(#p6b)" stroke-linejoin="round" stroke-linecap="round" />
<path d="M740.0,232.0 C750.0,223.0 765.0,214.7 780.0,208.0 C795.0,201.3 811.7,195.0 830.0,192.0 C848.3,189.0 873.3,187.8 890.0,190.0 C906.7,192.2 920.5,197.5 930.0,205.0 C939.5,212.5 947.0,225.5 947.0,235.0 C947.0,244.5 939.5,253.7 930.0,262.0 C920.5,270.3 905.0,278.7 890.0,285.0 C875.0,291.3 871.7,291.7 840.0,300.0 C808.3,308.3 725.0,335.0 700.0,335.0 C675.0,335.0 686.7,312.2 690.0,300.0 C693.3,287.8 711.7,273.3 720.0,262.0 C728.3,250.7 730.0,241.0 740.0,232.0Z" fill="#6e7077" stroke="#282a33" stroke-width="8" stroke-linejoin="round" stroke-linecap="round" />
<path d="M932.0,192.0 C941.3,187.5 978.7,169.5 988.0,165.0" fill="none" stroke="#282a33" stroke-width="8" stroke-linejoin="round" stroke-linecap="round" />
<path d="M690.0,272.0 C701.3,259.3 723.3,252.0 740.0,246.0 C756.7,240.0 776.7,236.0 790.0,236.0 C803.3,236.0 812.7,240.3 820.0,246.0 C827.3,251.7 833.7,261.7 834.0,270.0 C834.3,278.3 834.3,289.0 822.0,296.0 C809.7,303.0 780.3,306.7 760.0,312.0 C739.7,317.3 714.7,326.3 700.0,328.0 C685.3,329.7 673.7,331.3 672.0,322.0 C670.3,312.7 678.7,284.7 690.0,272.0Z" fill="#dedfe1" stroke="#282a33" stroke-width="8" stroke-linejoin="round" stroke-linecap="round" />
<path d="M792.0,240.0 C795.3,237.7 815.0,243.0 822.0,248.0 C829.0,253.0 834.0,262.3 834.0,270.0 C834.0,277.7 827.7,289.3 822.0,294.0 C816.3,298.7 803.3,303.3 800.0,298.0 C796.7,292.7 803.3,271.7 802.0,262.0 C800.7,252.3 788.7,242.3 792.0,240.0Z" fill="#fff" stroke-linejoin="round" stroke-linecap="round" />
<path d="M700.0,264.0 C715.8,260.0 779.2,244.0 795.0,240.0" fill="none" stroke="#282a33" stroke-width="8" stroke-linejoin="round" stroke-linecap="round" />
<path d="M800.0,246.0 C800.0,254.7 800.0,289.3 800.0,298.0" fill="none" stroke="#282a33" stroke-width="6" stroke-linejoin="round" stroke-linecap="round" />
<path d="M617.0,392.0 C624.2,385.3 646.2,361.3 660.0,352.0 C673.8,342.7 671.7,344.3 700.0,336.0 C728.3,327.7 798.3,310.3 830.0,302.0 C861.7,293.7 880.0,288.7 890.0,286.0" fill="none" stroke="#282a33" stroke-width="9" stroke-linejoin="round" stroke-linecap="round" />
<path d="M655.0,358.0 L696.0,344.0 L706.0,362.0 L662.0,380.0Z" fill="#7d7f87" stroke="#282a33" stroke-width="7" stroke-linejoin="round" stroke-linecap="round" />
<path d="M575.0,560.0 C574.5,553.3 571.7,534.2 572.0,520.0 C572.3,505.8 572.2,490.0 577.0,475.0 C581.8,460.0 593.7,444.2 601.0,430.0 C608.3,415.8 614.3,402.5 621.0,390.0 C627.7,377.5 633.5,367.5 641.0,355.0 C648.5,342.5 656.8,328.3 666.0,315.0 C675.2,301.7 686.0,287.2 696.0,275.0 C706.0,262.8 716.2,251.2 726.0,242.0 C735.8,232.8 744.7,226.7 755.0,220.0 C765.3,213.3 772.2,208.3 788.0,202.0 C803.8,195.7 831.3,185.7 850.0,182.0 C868.7,178.3 886.3,178.3 900.0,180.0 C913.7,181.7 926.7,190.0 932.0,192.0" fill="none" stroke="#282a33" stroke-width="9" stroke-linejoin="round" stroke-linecap="round" />
<path d="M547.0,512.0 C547.8,511.2 547.8,516.5 552.0,507.0 C556.2,497.5 565.3,472.0 572.0,455.0 C578.7,438.0 585.5,421.7 592.0,405.0 C598.5,388.3 604.5,371.7 611.0,355.0 C617.5,338.3 624.3,320.0 631.0,305.0 C637.7,290.0 644.7,275.8 651.0,265.0 C657.3,254.2 661.7,249.2 669.0,240.0 C676.3,230.8 686.2,219.0 695.0,210.0 C703.8,201.0 712.8,193.3 722.0,186.0 C731.2,178.7 745.3,169.3 750.0,166.0" fill="none" stroke="#282a33" stroke-width="7" stroke-linejoin="round" stroke-linecap="round" />
<path d="M470.0,549.0 C473.3,546.8 481.7,544.0 490.0,536.0 C498.3,528.0 511.7,512.2 520.0,501.0 C528.3,489.8 533.8,482.3 540.0,469.0 C546.2,455.7 550.8,436.5 557.0,421.0 C563.2,405.5 570.3,391.0 577.0,376.0 C583.7,361.0 590.2,345.2 597.0,331.0 C603.8,316.8 610.3,304.5 618.0,291.0 C625.7,277.5 634.7,261.8 643.0,250.0 C651.3,238.2 658.5,230.0 668.0,220.0 C677.5,210.0 688.0,200.0 700.0,190.0 C712.0,180.0 725.0,169.2 740.0,160.0 C755.0,150.8 781.7,139.2 790.0,135.0" fill="none" stroke="#282a33" stroke-width="9" stroke-linejoin="round" stroke-linecap="round" />
<path d="M622.0,262.0 C619.8,261.2 623.7,254.5 630.0,245.0 C636.3,235.5 650.5,216.2 660.0,205.0 C669.5,193.8 674.2,188.3 687.0,178.0 C699.8,167.7 720.3,152.5 737.0,143.0 C753.7,133.5 776.5,123.8 787.0,121.0 C797.5,118.2 805.8,120.0 800.0,126.0 C794.2,132.0 766.7,146.8 752.0,157.0 C737.3,167.2 726.2,176.7 712.0,187.0 C697.8,197.3 678.5,208.5 667.0,219.0 C655.5,229.5 650.5,242.8 643.0,250.0 C635.5,257.2 624.2,262.8 622.0,262.0Z" fill="#282a33" stroke-linejoin="round" stroke-linecap="round" />
<path d="M290.0,345.0 C289.2,339.5 291.7,334.2 301.0,325.0 C310.3,315.8 331.0,298.3 346.0,290.0 C361.0,281.7 371.8,277.5 391.0,275.0 C410.2,272.5 445.5,274.2 461.0,275.0 C476.5,275.8 484.0,277.0 484.0,280.0 C484.0,283.0 469.0,289.5 461.0,293.0 C453.0,296.5 446.8,296.5 436.0,301.0 C425.2,305.5 406.8,314.2 396.0,320.0 C385.2,325.8 376.8,331.2 371.0,336.0 C365.2,340.8 371.8,345.3 361.0,349.0 C350.2,352.7 317.8,358.7 306.0,358.0 C294.2,357.3 290.8,350.5 290.0,345.0Z" fill="#282a33" stroke-linejoin="round" stroke-linecap="round" />
<path d="M215.0,537.0 C218.3,525.8 227.2,491.2 235.0,470.0 C242.8,448.8 251.2,428.7 262.0,410.0 C272.8,391.3 288.7,370.5 300.0,358.0 C311.3,345.5 325.0,338.8 330.0,335.0" fill="none" stroke="#282a33" stroke-width="8" stroke-linejoin="round" stroke-linecap="round" />
<path d="M371.0,384.0 C369.8,375.3 374.0,360.3 378.0,350.0 C382.0,339.7 388.0,329.5 395.0,322.0 C402.0,314.5 407.5,309.2 420.0,305.0 C432.5,300.8 450.0,299.0 470.0,297.0 C490.0,295.0 519.7,293.8 540.0,293.0 C560.3,292.2 582.5,286.5 592.0,292.0 C601.5,297.5 599.5,317.0 597.0,326.0 C594.5,335.0 588.7,336.0 577.0,346.0 C565.3,356.0 544.5,373.5 527.0,386.0 C509.5,398.5 490.3,416.0 472.0,421.0 C453.7,426.0 431.5,419.2 417.0,416.0 C402.5,412.8 392.7,407.3 385.0,402.0 C377.3,396.7 372.2,392.7 371.0,384.0Z" fill="#d3d4d7" stroke="#282a33" stroke-width="11" stroke-linejoin="round" stroke-linecap="round" />
<path d="M384.0,372.0 C385.3,367.0 385.7,351.0 392.0,342.0 C398.3,333.0 417.0,322.0 422.0,318.0" fill="none" stroke="#282a33" stroke-width="7" stroke-linejoin="round" stroke-linecap="round" />
<path d="M404.0,326.0 L404.0,398.0" fill="none" stroke="#282a33" stroke-width="7" stroke-linejoin="round" stroke-linecap="round" />
<path d="M467.0,297.0 L467.0,396.0" fill="none" stroke="#282a33" stroke-width="8" stroke-linejoin="round" stroke-linecap="round" />
<path d="M468.0,300.0 L585.0,298.0 L572.0,340.0 L530.0,360.0 L500.0,345.0 L468.0,352.0Z" fill="#e6e6e8" stroke-linejoin="round" stroke-linecap="round" />
<ellipse cx="440" cy="390" rx="24" ry="13" fill="#fff" stroke="#282a33" stroke-width="10"/>
<path d="M487.0,351.0 L537.0,356.0 L517.0,386.0 L482.0,391.0Z" fill="#6e7077" stroke="#282a33" stroke-width="6" stroke-linejoin="round" stroke-linecap="round" />
<path d="M371.0,386.0 C378.7,391.0 400.2,410.2 417.0,416.0 C433.8,421.8 453.7,426.0 472.0,421.0 C490.3,416.0 509.5,398.5 527.0,386.0 C544.5,373.5 565.3,356.0 577.0,346.0 C588.7,336.0 593.7,329.3 597.0,326.0" fill="none" stroke="#282a33" stroke-width="14" stroke-linejoin="round" stroke-linecap="round" />
<ellipse cx="268" cy="467" rx="13" ry="30" transform="rotate(24 268 467)" fill="none" stroke="#282a33" stroke-width="16"/>
<path d="M324.0,390.0 L286.0,374.0 L308.0,402.0 L278.0,398.0 L300.0,430.0" fill="none" stroke="#282a33" stroke-width="15" stroke-linejoin="round" stroke-linecap="round" />
<path d="M420.0,425.0 C416.7,432.5 405.8,451.3 400.0,470.0 C394.2,488.7 391.3,522.0 385.0,537.0 C378.7,552.0 365.8,556.2 362.0,560.0" fill="none" stroke="#282a33" stroke-width="8" stroke-linejoin="round" stroke-linecap="round" />
<path d="M306.0,568.0 C317.5,562.0 331.0,561.8 350.0,560.0 C369.0,558.2 400.0,558.8 420.0,557.0 C440.0,555.2 464.0,539.2 470.0,549.0 C476.0,558.8 460.8,592.5 456.0,616.0 C451.2,639.5 447.7,666.8 441.0,690.0 C434.3,713.2 424.2,734.0 416.0,755.0 C407.8,776.0 397.8,803.5 392.0,816.0 C386.2,828.5 386.2,820.8 381.0,830.0 C375.8,839.2 369.3,858.3 361.0,871.0 C352.7,883.7 342.2,906.5 331.0,906.0 C319.8,905.5 304.8,880.2 294.0,868.0 C283.2,855.8 273.2,844.2 266.0,833.0 C258.8,821.8 255.2,814.8 251.0,801.0 C246.8,787.2 242.7,768.5 241.0,750.0 C239.3,731.5 239.0,709.0 241.0,690.0 C243.0,671.0 246.3,651.7 253.0,636.0 C259.7,620.3 272.2,607.3 281.0,596.0 C289.8,584.7 294.5,574.0 306.0,568.0Z" fill="#fff" stroke="#282a33" stroke-width="11" stroke-linejoin="round" stroke-linecap="round" />
<path d="M300.0,566.0 C308.3,564.8 330.0,560.7 350.0,559.0 C370.0,557.3 400.0,557.7 420.0,556.0 C440.0,554.3 461.7,550.2 470.0,549.0" fill="none" stroke="#282a33" stroke-width="15" stroke-linejoin="round" stroke-linecap="round" />
<path d="M306.0,568.0 C299.3,571.8 278.5,580.5 266.0,591.0 C253.5,601.5 240.2,616.8 231.0,631.0 C221.8,645.2 215.0,657.7 211.0,676.0 C207.0,694.3 207.0,720.2 207.0,741.0 C207.0,761.8 208.3,784.3 211.0,801.0 C213.7,817.7 217.0,827.2 223.0,841.0 C229.0,854.8 237.8,870.2 247.0,884.0 C256.2,897.8 266.8,911.5 278.0,924.0 C289.2,936.5 302.8,948.5 314.0,959.0 C325.2,969.5 335.2,978.0 345.0,987.0 C354.8,996.0 368.3,1008.7 373.0,1013.0 L401,961 L357,928 L326,900 L294,868 L266,833 L251,801 L241,750 L241,690 L253,636 L281,596 Z" fill="url(#p6c)"/>
<path d="M178.0,700.0 C178.3,715.0 178.3,765.2 180.0,790.0 C181.7,814.8 184.2,830.7 188.0,849.0 C191.8,867.3 197.2,885.0 203.0,900.0 C208.8,915.0 216.0,927.7 223.0,939.0 C230.0,950.3 233.2,957.7 245.0,968.0 C256.8,978.3 278.0,993.7 294.0,1001.0 C310.0,1008.3 327.8,1009.7 341.0,1012.0 C354.2,1014.3 367.7,1014.5 373.0,1015.0 L373,1013 L345,987 L314,959 L278,924 L247,884 L223,841 L211,801 L207,741 Z" fill="url(#p6a)"/>
<path d="M150.0,741.0 C150.3,751.0 150.3,783.0 152.0,801.0 C153.7,819.0 155.3,831.8 160.0,849.0 C164.7,866.2 172.2,887.7 180.0,904.0 C187.8,920.3 195.8,933.8 207.0,947.0 C218.2,960.2 240.3,977.0 247.0,983.0 L245,968 L223,939 L203,900 L188,849 L180,790 L178,700 Z" fill="#b9babf"/>
<path d="M235.0,951.0 C238.8,947.7 256.2,951.0 266.0,955.0 C275.8,959.0 288.3,968.2 294.0,975.0 C299.7,981.8 304.7,993.2 300.0,996.0 C295.3,998.8 275.5,995.5 266.0,992.0 C256.5,988.5 248.2,981.8 243.0,975.0 C237.8,968.2 231.2,954.3 235.0,951.0Z" fill="#282a33" stroke-linejoin="round" stroke-linecap="round" />
<path d="M232.0,441.0 C228.0,452.5 215.3,483.5 208.0,510.0 C200.7,536.5 193.0,568.3 188.0,600.0 C183.0,631.7 179.3,668.3 178.0,700.0 C176.7,731.7 178.3,765.2 180.0,790.0 C181.7,814.8 184.2,830.7 188.0,849.0 C191.8,867.3 197.2,885.0 203.0,900.0 C208.8,915.0 216.0,927.7 223.0,939.0 C230.0,950.3 241.3,963.2 245.0,968.0" fill="none" stroke="#282a33" stroke-width="8" stroke-linejoin="round" stroke-linecap="round" />
<path d="M306.0,568.0 C299.3,571.8 278.5,580.5 266.0,591.0 C253.5,601.5 240.2,616.8 231.0,631.0 C221.8,645.2 215.0,657.7 211.0,676.0 C207.0,694.3 207.0,720.2 207.0,741.0 C207.0,761.8 208.3,784.3 211.0,801.0 C213.7,817.7 217.0,827.2 223.0,841.0 C229.0,854.8 237.8,870.2 247.0,884.0 C256.2,897.8 266.8,911.5 278.0,924.0 C289.2,936.5 302.8,948.5 314.0,959.0 C325.2,969.5 335.2,978.0 345.0,987.0 C354.8,996.0 368.3,1008.7 373.0,1013.0" fill="none" stroke="#282a33" stroke-width="8" stroke-linejoin="round" stroke-linecap="round" />
<path d="M401.0,961.0 C393.7,955.5 369.5,938.2 357.0,928.0 C344.5,917.8 336.5,910.0 326.0,900.0 C315.5,890.0 304.0,879.2 294.0,868.0 C284.0,856.8 273.2,844.2 266.0,833.0 C258.8,821.8 253.5,806.3 251.0,801.0" fill="none" stroke="#282a33" stroke-width="11" stroke-linejoin="round" stroke-linecap="round" />
<path d="M211.0,690.0 L241.0,682.0" fill="none" stroke="#282a33" stroke-width="7" stroke-linejoin="round" stroke-linecap="round" />
<path d="M208.0,760.0 L241.0,748.0" fill="none" stroke="#282a33" stroke-width="7" stroke-linejoin="round" stroke-linecap="round" />
<path d="M552.0,507.0 L577.0,475.0 L574.0,560.0 L575.0,610.0 L577.0,641.0 L592.0,691.0 L617.0,731.0 L582.0,751.0 L552.0,701.0 L537.0,641.0 L538.0,600.0 L540.0,521.0Z" fill="url(#p6d)" stroke-linejoin="round" stroke-linecap="round" />
<path d="M500.0,536.0 C498.7,550.2 497.0,590.2 492.0,621.0 C487.0,651.8 478.7,687.7 470.0,721.0 C461.3,754.3 445.8,801.8 440.0,821.0 C434.2,840.2 435.8,833.5 435.0,836.0" fill="none" stroke="#282a33" stroke-width="9" stroke-linejoin="round" stroke-linecap="round" />
<path d="M525.0,521.0 C524.5,532.7 524.5,562.7 522.0,591.0 C519.5,619.3 517.0,657.7 510.0,691.0 C503.0,724.3 487.5,766.0 480.0,791.0 C472.5,816.0 467.5,832.7 465.0,841.0" fill="none" stroke="#282a33" stroke-width="12" stroke-linejoin="round" stroke-linecap="round" />
<path d="M540.0,521.0 C539.7,534.2 538.5,580.0 538.0,600.0 C537.5,620.0 534.7,624.2 537.0,641.0 C539.3,657.8 544.5,682.7 552.0,701.0 C559.5,719.3 570.3,736.8 582.0,751.0 C593.7,765.2 605.3,775.2 622.0,786.0 C638.7,796.8 658.0,806.0 682.0,816.0 C706.0,826.0 735.3,836.0 766.0,846.0 C796.7,856.0 839.3,866.0 866.0,876.0 C892.7,886.0 911.0,894.0 926.0,906.0 C941.0,918.0 949.7,932.3 956.0,948.0 C962.3,963.7 965.8,982.7 964.0,1000.0 C962.2,1017.3 948.2,1043.3 945.0,1052.0" fill="none" stroke="#282a33" stroke-width="9" stroke-linejoin="round" stroke-linecap="round" />
<path d="M577.0,475.0 C576.5,489.2 574.3,537.5 574.0,560.0 C573.7,582.5 574.5,596.5 575.0,610.0 C575.5,623.5 574.2,627.5 577.0,641.0 C579.8,654.5 585.3,676.0 592.0,691.0 C598.7,706.0 612.8,724.3 617.0,731.0" fill="none" stroke="#282a33" stroke-width="12" stroke-linejoin="round" stroke-linecap="round" />
<path d="M471.0,861.0 C477.2,858.5 493.5,884.7 506.0,886.0 C518.5,887.3 531.0,873.5 546.0,869.0 C561.0,864.5 573.7,859.2 596.0,859.0 C618.3,858.8 649.3,861.2 680.0,868.0 C710.7,874.8 755.0,888.3 780.0,900.0 C805.0,911.7 819.7,923.0 830.0,938.0 C840.3,953.0 841.2,977.7 842.0,990.0 C842.8,1002.3 838.7,1011.7 835.0,1012.0 C831.3,1012.3 829.2,1000.3 820.0,992.0 C810.8,983.7 800.0,972.0 780.0,962.0 C760.0,952.0 730.7,940.3 700.0,932.0 C669.3,923.7 625.8,912.2 596.0,912.0 C566.2,911.8 541.8,922.8 521.0,931.0 C500.2,939.2 486.0,950.2 471.0,961.0 C456.0,971.8 439.5,996.2 431.0,996.0 C422.5,995.8 413.7,975.8 420.0,960.0 C426.3,944.2 460.5,917.5 469.0,901.0 C477.5,884.5 464.8,863.5 471.0,861.0Z" fill="#c6c7cb" stroke="#282a33" stroke-width="8" stroke-linejoin="round" stroke-linecap="round" />
<path d="M431.0,994.0 C431.2,982.2 456.0,971.5 471.0,961.0 C486.0,950.5 500.2,939.2 521.0,931.0 C541.8,922.8 566.2,911.8 596.0,912.0 C625.8,912.2 669.3,923.7 700.0,932.0 C730.7,940.3 760.0,952.0 780.0,962.0 C800.0,972.0 810.8,983.7 820.0,992.0 C829.2,1000.3 835.0,1002.0 835.0,1012.0 C835.0,1022.0 829.2,1037.0 820.0,1052.0 C810.8,1067.0 796.7,1086.2 780.0,1102.0 C763.3,1117.8 740.0,1134.5 720.0,1147.0 C700.0,1159.5 678.3,1171.2 660.0,1177.0 C641.7,1182.8 625.0,1184.5 610.0,1182.0 C595.0,1179.5 585.0,1175.3 570.0,1162.0 C555.0,1148.7 536.7,1123.7 520.0,1102.0 C503.3,1080.3 484.8,1050.0 470.0,1032.0 C455.2,1014.0 430.8,1005.8 431.0,994.0Z" fill="#fff" stroke="#282a33" stroke-width="14" stroke-linejoin="round" stroke-linecap="round" />
<path d="M590.0,1272.0 C595.0,1284.5 628.3,1315.3 650.0,1322.0 C671.7,1328.7 695.0,1320.3 720.0,1312.0 C745.0,1303.7 773.3,1290.3 800.0,1272.0 C826.7,1253.7 856.7,1227.0 880.0,1202.0 C903.3,1177.0 922.5,1148.7 940.0,1122.0 C957.5,1095.3 979.2,1054.5 985.0,1042.0 C990.8,1029.5 982.5,1045.3 975.0,1047.0 C967.5,1048.7 952.5,1039.5 940.0,1052.0 C927.5,1064.5 916.7,1098.7 900.0,1122.0 C883.3,1145.3 863.3,1171.2 840.0,1192.0 C816.7,1212.8 786.7,1234.5 760.0,1247.0 C733.3,1259.5 703.3,1267.0 680.0,1267.0 C656.7,1267.0 635.0,1246.2 620.0,1247.0 C605.0,1247.8 585.0,1259.5 590.0,1272.0Z" fill="#c6c7cb" stroke="#282a33" stroke-width="8" stroke-linejoin="round" stroke-linecap="round" />
<path d="M619.0,786.0 L657.0,765.0" fill="none" stroke="#282a33" stroke-width="8" stroke-linejoin="round" stroke-linecap="round" />
<path d="M677.0,861.0 L694.0,826.0" fill="none" stroke="#282a33" stroke-width="8" stroke-linejoin="round" stroke-linecap="round" />
<path d="M866.0,874.0 L902.0,850.0" fill="none" stroke="#282a33" stroke-width="8" stroke-linejoin="round" stroke-linecap="round" />
<path d="M462.0,1112.0 L497.0,1092.0" fill="none" stroke="#282a33" stroke-width="8" stroke-linejoin="round" stroke-linecap="round" />
<path d="M575.0,1265.0 L622.0,1245.0" fill="none" stroke="#282a33" stroke-width="8" stroke-linejoin="round" stroke-linecap="round" />
<path d="M938.0,1056.0 L982.0,1042.0" fill="none" stroke="#282a33" stroke-width="8" stroke-linejoin="round" stroke-linecap="round" />
<path d="M330.0,960.0 L358.0,939.0" fill="none" stroke="#282a33" stroke-width="8" stroke-linejoin="round" stroke-linecap="round" />
<path d="M525.0,930.0 L528.0,872.0" fill="none" stroke="#282a33" stroke-width="8" stroke-linejoin="round" stroke-linecap="round" />
<path d="M757.0,955.0 L742.0,897.0" fill="none" stroke="#282a33" stroke-width="8" stroke-linejoin="round" stroke-linecap="round" />
<path d="M386.0,816.0 L441.0,836.0 L438.0,848.0 L383.0,828.0Z" fill="#fff" stroke="#282a33" stroke-width="7" stroke-linejoin="round" stroke-linecap="round" />
<path d="M431.0,851.0 L476.0,846.0" fill="none" stroke="#282a33" stroke-width="11" stroke-linejoin="round" stroke-linecap="round" />
<path d="M434.0,856.0 L469.0,856.0 L469.0,901.0 L439.0,894.0Z" fill="#fff" stroke="#282a33" stroke-width="8" stroke-linejoin="round" stroke-linecap="round" />
<path d="M364.0,892.0 L404.0,899.0 L399.0,946.0 L356.0,911.0Z" fill="#fff" stroke="#282a33" stroke-width="8" stroke-linejoin="round" stroke-linecap="round" />
<path d="M389.0,905.0 L389.0,940.0" fill="none" stroke="#282a33" stroke-width="6" stroke-linejoin="round" stroke-linecap="round" />
<path d="M404.0,926.0 C407.7,925.2 417.3,924.3 426.0,921.0 C434.7,917.7 451.0,908.5 456.0,906.0" fill="none" stroke="#282a33" stroke-width="7" stroke-linejoin="round" stroke-linecap="round" />
<path d="M410.0,940.0 C415.0,938.3 430.7,934.7 440.0,930.0 C449.3,925.3 461.7,915.0 466.0,912.0" fill="none" stroke="#282a33" stroke-width="7" stroke-linejoin="round" stroke-linecap="round" />
</g>
</svg>
</body>
</html>
